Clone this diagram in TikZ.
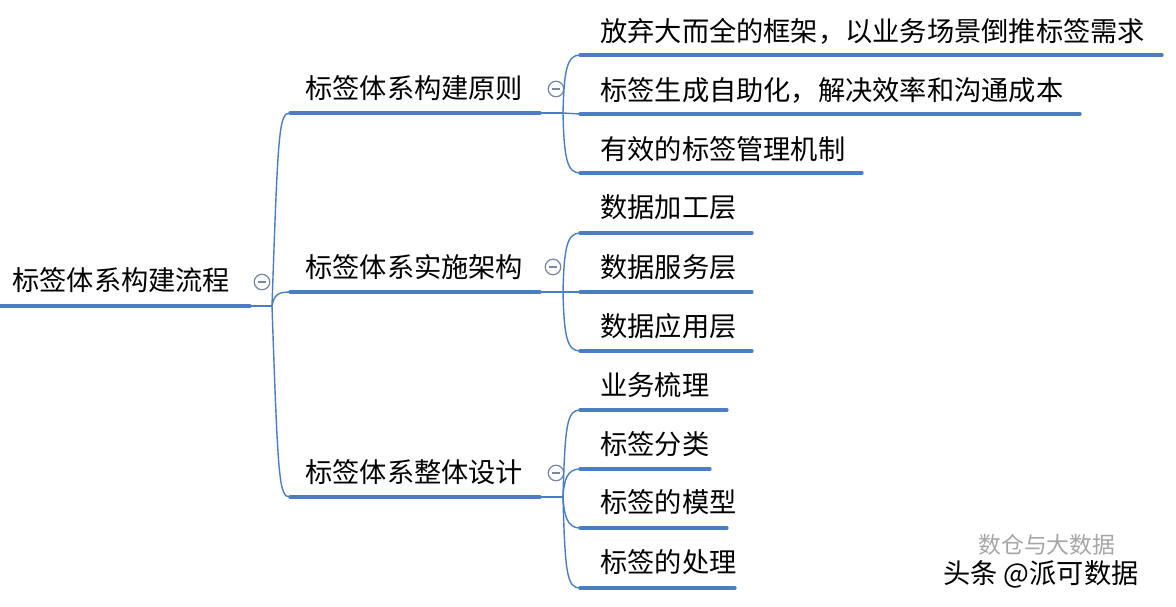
\documentclass[tikz,border=0pt]{standalone}
\usepackage{fontspec}
\setmainfont{Noto Sans CJK SC}
\usetikzlibrary{calc}
\definecolor{mapblue}{RGB}{74,126,193}
\definecolor{icongray}{RGB}{120,135,165}
\tikzset{
  thickln/.style={mapblue,line width=1.9pt,line cap=round},
  thinln/.style={mapblue,line width=0.8pt},
  lbl/.style={anchor=west,inner sep=0pt,font=\fontsize{15.5pt}{18pt}\selectfont,text=black},
  collapse/.style={circle,draw=icongray,line width=0.7pt,minimum size=0.31cm,inner sep=0pt},
  joint/.style={coordinate}
}
\newcommand{\minusin}[1]{\draw[icongray,line width=0.8pt] ($(#1.center)+(-4,0)$) -- ($(#1.center)+(4,0)$);}
\begin{document}
\begin{tikzpicture}[x=0.02cm,y=-0.02cm]
\useasboundingbox[fill=white] (0,0) rectangle (1176,606);

% root
\node[lbl] (root) at (12,280) {标签体系构建流程};
\coordinate (r0) at (0,306);
\coordinate (r1) at (250,306);
\coordinate (rt) at (272,306);
\draw[thickln] (r0) -- (r1);
\draw[thinln] (r1) -- (rt);
\node[collapse] (c0) at (262,282) {};
\minusin{c0}

% level 1 branches
\node[lbl] (b1) at (305,88) {标签体系构建原则};
\node[lbl] (b2) at (305,267) {标签体系实施架构};
\node[lbl] (b3) at (305,472) {标签体系整体设计};

\coordinate (b1s) at (290,113); \coordinate (b1e) at (540,113); \coordinate (b1t) at (563,113);
\coordinate (b2s) at (290,292); \coordinate (b2e) at (540,292); \coordinate (b2t) at (563,292);
\coordinate (b3s) at (290,497); \coordinate (b3e) at (540,497); \coordinate (b3t) at (563,497);

\draw[thinln] (rt) .. controls (278,130) and (279,113) .. (b1s);
\draw[thinln] (rt) .. controls (274,295) and (278,292) .. (b2s);
\draw[thinln] (rt) .. controls (278,480) and (279,497) .. (b3s);

\foreach \b in {b1,b2,b3}{
  \draw[thickln] (\b s) -- (\b e);
  \draw[thinln] (\b e) -- (\b t);
}
\node[collapse] (c1) at (556,89) {}; \minusin{c1}
\node[collapse] (c2) at (553,267) {}; \minusin{c2}
\node[collapse] (c3) at (556,473) {}; \minusin{c3}

% branch 1 children
\node[lbl] (a1) at (600,31) {放弃大而全的框架，以业务场景倒推标签需求};
\node[lbl] (a2) at (600,90) {标签生成自助化，解决效率和沟通成本};
\node[lbl] (a3) at (600,149) {有效的标签管理机制};
\coordinate (a1s) at (580,55);  \coordinate (a1e) at (1162,55);
\coordinate (a2s) at (580,114); \coordinate (a2e) at (1080,114);
\coordinate (a3s) at (580,173); \coordinate (a3e) at (862,173);
\draw[thinln] (b1t) .. controls (564,70) and (567,55) .. (a1s);
\draw[thinln] (b1t) -- (a2s);
\draw[thinln] (b1t) .. controls (564,158) and (567,173) .. (a3s);
\draw[thickln] (a1s) -- (a1e);
\draw[thickln] (a2s) -- (a2e);
\draw[thickln] (a3s) -- (a3e);

% branch 2 children
\node[lbl] (d1) at (600,207) {数据加工层};
\node[lbl] (d2) at (600,267) {数据服务层};
\node[lbl] (d3) at (600,326) {数据应用层};
\coordinate (d1s) at (580,233); \coordinate (d1e) at (752,233);
\coordinate (d2s) at (580,292); \coordinate (d2e) at (752,292);
\coordinate (d3s) at (580,351); \coordinate (d3e) at (752,351);
\draw[thinln] (b2t) .. controls (564,248) and (567,233) .. (d1s);
\draw[thinln] (b2t) -- (d2s);
\draw[thinln] (b2t) .. controls (564,336) and (567,351) .. (d3s);
\draw[thickln] (d1s) -- (d1e);
\draw[thickln] (d2s) -- (d2e);
\draw[thickln] (d3s) -- (d3e);

% branch 3 children
\node[lbl] (e1) at (600,385) {业务梳理};
\node[lbl] (e2) at (600,444) {标签分类};
\node[lbl] (e3) at (600,502) {标签的模型};
\node[lbl] (e4) at (600,562) {标签的处理};
\coordinate (e1s) at (580,410); \coordinate (e1e) at (727,410);
\coordinate (e2s) at (580,469); \coordinate (e2e) at (710,469);
\coordinate (e3s) at (580,528); \coordinate (e3e) at (727,528);
\coordinate (e4s) at (580,588); \coordinate (e4e) at (735,588);
\draw[thinln] (b3t) .. controls (565,425) and (567,410) .. (e1s);
\draw[thinln] (b3t) .. controls (564,480) and (567,469) .. (e2s);
\draw[thinln] (b3t) .. controls (564,515) and (567,528) .. (e3s);
\draw[thinln] (b3t) .. controls (565,573) and (567,588) .. (e4s);
\draw[thickln] (e1s) -- (e1e);
\draw[thickln] (e2s) -- (e2e);
\draw[thickln] (e3s) -- (e3e);
\draw[thickln] (e4s) -- (e4e);

% watermark
\node[lbl,text=black!35,font=\fontsize{13pt}{15pt}\selectfont] (w1) at (978,545) {数仓与大数据};
\node[lbl] (w2) at (943,574) {头条 @派可数据};
\end{tikzpicture}
\end{document}
